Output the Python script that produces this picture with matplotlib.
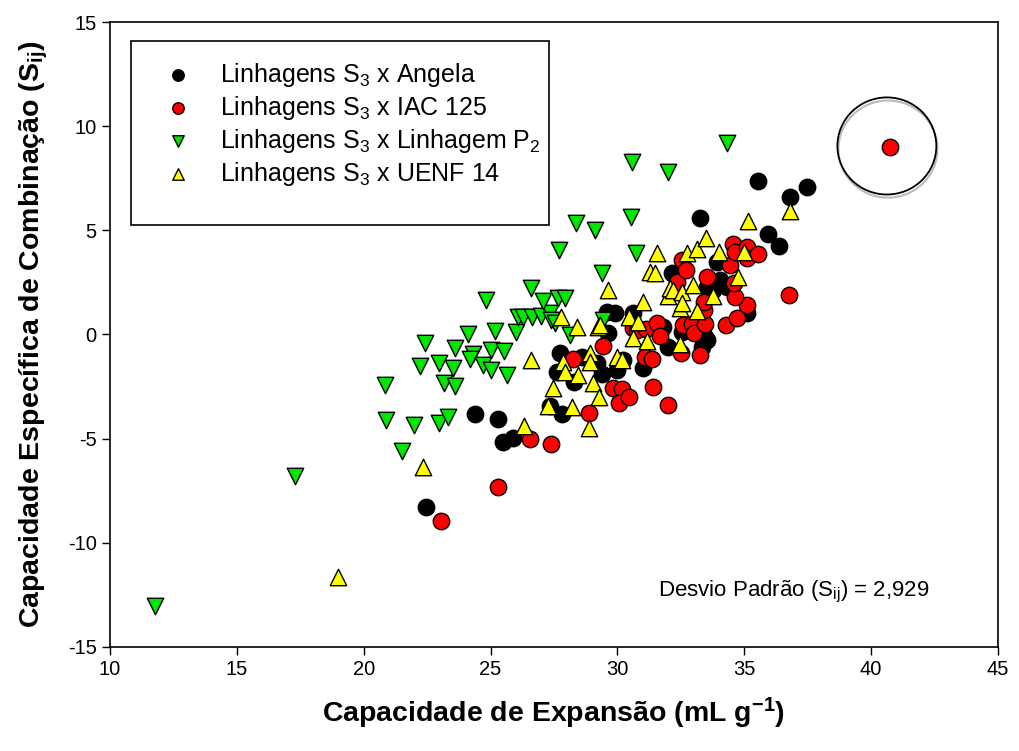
import matplotlib
matplotlib.use("Agg")
import matplotlib.pyplot as plt
from matplotlib.patches import Ellipse, Rectangle

plt.rcParams["font.family"] = ["Liberation Sans", "DejaVu Sans"]
plt.rcParams["mathtext.default"] = "regular"
plt.rcParams["axes.unicode_minus"] = False

# Linhagens S3 x Angela
angela_x = [22.46, 24.39, 25.31, 25.48, 25.9, 27.34, 27.80, 27.74, 27.6, 28.29,
            28.59, 29.18, 29.40, 29.97, 30.23, 29.64, 29.57, 29.9, 30.63, 30.99,
            31.81, 32.0, 32.53, 33.45, 33.32, 33.52, 32.14, 33.26, 33.52, 33.78,
            34.04, 34.3, 33.91, 35.09, 35.55, 35.95, 36.38, 36.8, 37.46]
angela_y = [-8.27, -3.82, -4.06, -5.15, -4.98, -3.43, -3.83, -0.90, -1.78, -2.27,
            -1.06, -1.38, -1.91, -1.70, -1.22, 0.06, 1.09, 1.02, 1.02, -1.62,
            0.38, -0.58, 0.13, -0.11, -0.58, -0.26, 2.94, 5.58, 2.29, 2.14,
            2.62, 2.29, 3.50, 1.02, 7.37, 4.82, 4.26, 6.62, 7.10]

# Linhagens S3 x IAC 125
iac_x = [23.03, 25.31, 26.55, 27.38, 28.24, 28.89, 29.42, 29.81, 30.17, 30.07,
         30.47, 30.63, 30.76, 31.13, 31.09, 31.35, 31.42, 32.0, 31.57, 31.68,
         32.5, 33.26, 32.6, 32.93, 33.02, 33.45, 33.41, 33.41, 34.28, 34.7,
         35.12, 34.64, 34.6, 33.52, 32.33, 32.53, 32.69, 34.44, 34.57, 34.64,
         35.12, 35.12, 35.55, 36.77, 40.74]
iac_y = [-8.95, -7.34, -5.03, -5.27, -1.18, -3.78, -0.55, -2.58, -2.63, -3.30,
         -2.99, 0.30, 0.22, 0.25, -1.09, -1.19, -2.5, -3.38, 0.57, -0.07,
         -0.9, -0.98, 0.46, 0.5, 0.06, 0.50, 1.18, 1.58, 0.46, 0.78,
         1.42, 1.82, 2.46, 2.78, 2.54, 3.58, 3.10, 3.34, 4.34, 3.98,
         4.22, 3.66, 3.87, 1.90, 9.0]

# Linhagens S3 x Linhagem P2
p2_x = [11.77, 17.29, 20.84, 20.88, 21.50, 21.98, 22.42, 22.22, 22.98, 22.98,
        23.31, 23.17, 23.60, 23.51, 23.60, 24.10, 24.32, 24.19, 24.69, 25.0,
        25.53, 25.02, 25.66, 25.18, 26.0, 24.82, 26.09, 26.29, 26.62, 26.97,
        27.34, 27.4, 27.54, 26.59, 27.08, 27.67, 27.93, 27.70, 28.13, 28.35,
        29.12, 29.38, 29.44, 30.57, 30.54, 30.73, 32.0, 34.32]
p2_y = [-13.03, -6.79, -2.42, -4.10, -5.59, -4.34, -0.39, -1.51, -1.38, -4.23,
        -3.95, -2.33, -2.47, -1.59, -0.66, 0.02, -0.94, -1.18, -1.46, -0.74,
        -0.79, -1.70, -1.94, 0.17, 0.12, 1.66, 0.85, 0.85, 0.82, 0.89,
        1.02, 0.70, 0.54, 2.22, 1.61, 1.77, 1.74, 4.06, -0.02, 5.37,
        5.02, 2.97, 0.70, 8.28, 5.66, 3.93, 7.80, 9.19]

# Linhagens S3 x UENF 14
uenf_x = [18.97, 22.32, 26.33, 26.59, 27.25, 27.45, 27.87, 27.94, 28.2, 28.39,
          28.46, 28.86, 28.92, 28.92, 29.02, 29.29, 29.25, 29.31, 29.64, 29.97,
          30.17, 30.47, 30.63, 30.82, 31.02, 31.15, 31.29, 31.48, 31.55, 32.0,
          32.07, 32.2, 32.47, 32.47, 32.53, 32.53, 32.75, 32.99, 33.12, 33.15,
          33.49, 33.78, 34.0, 34.74, 34.99, 35.16, 36.8, 27.76]
uenf_y = [-11.63, -6.35, -4.39, -1.22, -3.43, -2.58, -1.30, -1.78, -3.5, 0.38,
          -1.94, -4.50, -0.90, -1.31, -2.34, -2.98, 0.38, 0.46, 2.14, -1.06,
          -1.22, 0.83, -0.18, 0.61, 1.58, -0.30, 3.01, 2.97, 3.90, 1.85,
          2.22, 2.14, 1.26, -0.46, 2.06, 1.50, 3.93, 2.38, 4.09, 1.14,
          4.62, 1.85, 3.98, 2.78, 3.98, 5.46, 5.94, 0.83]

fig = plt.figure(figsize=(10.19, 7.51), dpi=100, facecolor="white")
ax = fig.add_axes([0.108, 0.1385, 0.8714, 0.8322])

kw = dict(edgecolors="black", linewidths=1.0)
ax.scatter(angela_x, angela_y, s=140, marker="o", color="black",
           label=r"Linhagens S$_3$ x Angela", **kw)
ax.scatter(iac_x, iac_y, s=140, marker="o", color="#ff0000",
           label=r"Linhagens S$_3$ x IAC 125", **kw)
ax.scatter(p2_x, p2_y, s=140, marker="v", color="#00e600",
           label=r"Linhagens S$_3$ x Linhagem P$_2$", **kw)
ax.scatter(uenf_x, uenf_y, s=140, marker="^", color="#ffff00",
           label=r"Linhagens S$_3$ x UENF 14", **kw)

# highlighted outlier
ax.add_patch(Ellipse((40.66, 8.9), 3.9, 4.66, fill=False, edgecolor="#bbbbbb",
                     lw=1.5, zorder=1))
ax.add_patch(Ellipse((40.62, 9.05), 3.9, 4.66, fill=False, edgecolor="black",
                     lw=1.3, zorder=3))

ax.set_xlim(10, 45)
ax.set_ylim(-15, 15)
ax.set_xticks(range(10, 46, 5))
ax.set_yticks(range(-15, 16, 5))
ax.tick_params(direction="out", length=6, width=1, labelsize=14.5)
for s in ax.spines.values():
    s.set_linewidth(1.2)

ax.set_xlabel(r"Capacidade de Expansão (mL g$^{-1}$)", fontsize=20.5,
              fontweight="bold", labelpad=12)
ax.set_ylabel(r"Capacidade Específica de Combinação (S$_{ij}$)", fontsize=20.5,
              fontweight="bold", labelpad=13)

ax.text(0.77, 0.088, r"Desvio Padrão (S$_{ij}$) = 2,929", transform=ax.transAxes,
        fontsize=16, ha="center", va="center")

# legend box drawn separately (taller than the entries, like the original)
ax.add_patch(Rectangle((0.0236, 0.6745), 0.4707, 0.2945, transform=ax.transAxes,
                       fill=False, edgecolor="black", lw=1.2, zorder=5))
leg = ax.legend(loc="upper left", bbox_to_anchor=(0.0236, 0.962), fontsize=18,
                frameon=False, markerscale=0.7, borderpad=0.6, labelspacing=0.2,
                handlelength=2.56, handletextpad=0.4, borderaxespad=0)

fig.savefig("out.png", dpi=100, facecolor="white")
